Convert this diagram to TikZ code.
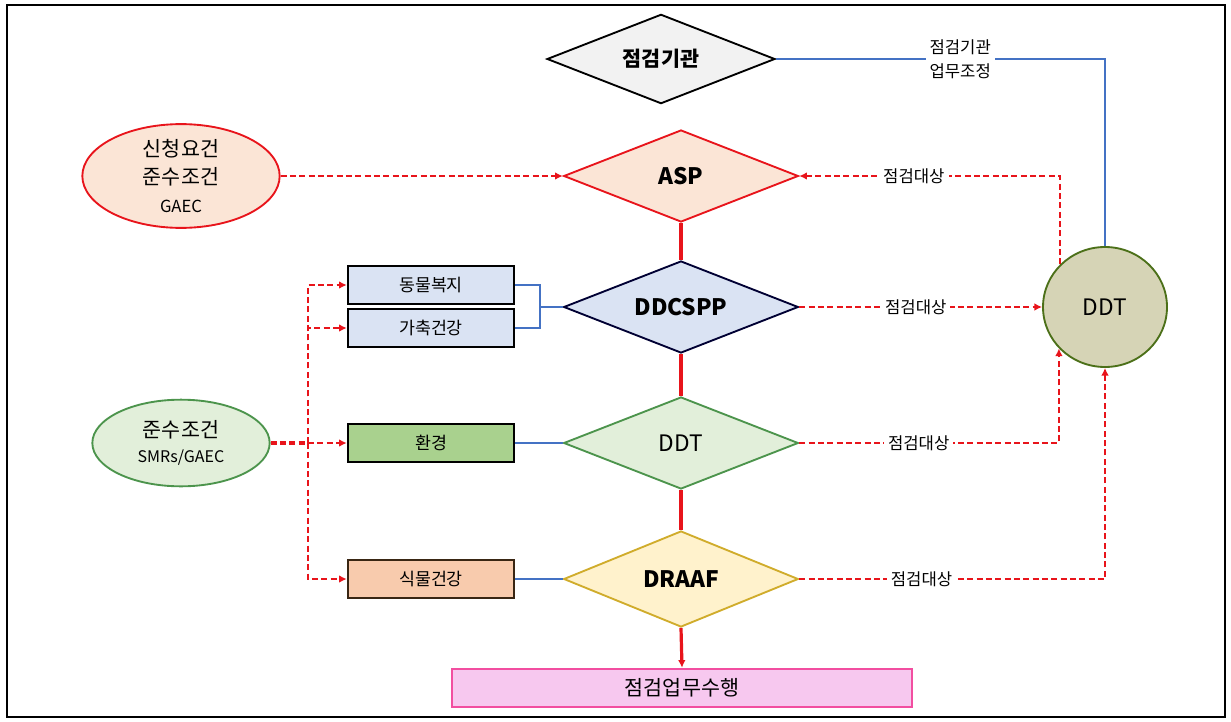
\documentclass[tikz,border=0pt]{standalone}
\usepackage{fontspec}
\setmainfont{Noto Sans CJK KR}
\usetikzlibrary{arrows.meta,shapes.geometric}

\definecolor{lineblue}{HTML}{4472C4}
\definecolor{linered}{HTML}{E8141B}
\definecolor{aspfill}{HTML}{FBE5D6}
\definecolor{bluefill}{HTML}{DAE3F3}
\definecolor{greenfill}{HTML}{E2EFDA}
\definecolor{yellowfill}{HTML}{FFF2CC}
\definecolor{envfill}{HTML}{A9D18E}
\definecolor{plantfill}{HTML}{F8CBAD}
\definecolor{pinkfill}{HTML}{F7C8EF}
\definecolor{ddtfill}{HTML}{D6D4B6}

\tikzset{%
  >={Latex[width=2mm,length=2mm]},
  % Specifications for style of nodes:
          base/.style = {draw=black, line width=1.4pt, inner sep=0pt,
                         align=center},
       decide/.style = {base, diamond, shape aspect=2.5, minimum width=176pt,
                         minimum height=69pt},
       source/.style = {base, ellipse, minimum height=65pt},
      itembox/.style = {base, rectangle, minimum width=125pt,
                         minimum height=28pt, font=\fontsize{13}{15}\selectfont},
  % Specifications for style of lines:
      blueline/.style = {draw=lineblue, line width=1.3pt},
       redline/.style = {draw=linered, line width=2.4pt},
      reddash/.style = {draw=linered, line width=1.5pt,
                         dash pattern=on 4.5pt off 2.5pt},
          lbl/.style = {fill=white, inner sep=3pt, align=center,
                         font=\fontsize{12.5}{18}\selectfont},
}

\begin{document}
\begin{tikzpicture}[x=0.75pt, y=-0.75pt]

  \useasboundingbox (0,0) rectangle (1231,721);
  \draw[line width=1pt] (7,5) rectangle (1225,717);

  % central column
  \node (gigwan) [decide, minimum width=171pt, minimum height=67pt,
                  fill=black!5, font=\fontsize{15.5}{18}\selectfont\bfseries]
                  at (661,59) {점검기관};
  \node (asp)    [decide, draw=linered, fill=aspfill,
                  font=\fontsize{17}{20}\selectfont\bfseries]
                  at (681,176) {ASP};
  \node (ddcspp) [decide, draw=black!80!blue, fill=bluefill,
                  font=\fontsize{17}{20}\selectfont\bfseries]
                  at (681,307) {DDCSPP};
  \node (ddt)    [decide, draw=black!60!green!70, fill=greenfill,
                  font=\fontsize{17}{20}\selectfont]
                  at (681,443) {DDT};
  \node (draaf)  [decide, draw=yellow!60!orange!80!black, fill=yellowfill,
                  minimum height=72pt, font=\fontsize{17}{20}\selectfont\bfseries]
                  at (681,579) {DRAAF};
  \node (work)   [base, draw=magenta!60!pink, fill=pinkfill,
                  minimum width=345pt, minimum height=29pt,
                  font=\fontsize{15.5}{18}\selectfont]
                  at (682,688) {점검업무수행};

  % left side
  \node (apply)  [source, draw=linered, fill=aspfill, minimum width=148pt,
                  font=\fontsize{15.5}{21}\selectfont]
                  at (181,176) {신청요건\\준수조건\\
                                {\fontsize{12.5}{15}\selectfont GAEC}};
  \node (smr)    [source, draw=black!60!green!70, fill=greenfill,
                  minimum width=133pt, font=\fontsize{15.5}{19}\selectfont]
                  at (181,443) {준수조건\\
                                {\fontsize{12}{14}\selectfont SMRs/GAEC}};
  \node (animal) [itembox, fill=bluefill]  at (431,285) {동물복지};
  \node (health) [itembox, fill=bluefill]  at (431,328) {가축건강};
  \node (env)    [itembox, fill=envfill]   at (431,443) {환경};
  \node (plant)  [itembox, draw=black!70!brown, fill=plantfill]
                  at (431,579) {식물건강};

  % right side
  \node (ddtc)   [base, ellipse, draw=black!60!green!60!brown, fill=ddtfill,
                  minimum width=93pt, minimum height=90pt,
                  font=\fontsize{17}{20}\selectfont]
                  at (1105,307) {DDT};

  \coordinate (split) at (308,443);
  \coordinate (join)  at (540,307);

  % solid chain
  \draw[redline]     (asp.south)    -- (ddcspp.north);
  \draw[redline]     (ddcspp.south) -- (ddt.north);
  \draw[redline]     (ddt.south)    -- (draaf.north);
  \draw[redline, ->] (draaf.south)  -- (work.north);

  % blue links
  \draw[blueline] (gigwan.east) -- node[lbl, pos=0.56] {점검기관\\업무조정}
                  (gigwan.east -| ddtc.north) -- (ddtc.north);
  \draw[blueline] (animal.east) -| (join) |- (health.east);
  \draw[blueline] (join) -- (ddcspp.west);
  \draw[blueline] (env.east) -- (ddt.west);
  \draw[blueline] (plant.east) -- (draaf.west);

  % inspection targets
  \draw[reddash, ->] (apply.east) -- (asp.west);
  \draw[reddash, <-] (asp.east) -- node[lbl, pos=0.44] {점검대상}
                     (asp.east -| ddtc.137.5) -- (ddtc.137.5);
  \draw[reddash, ->] (ddcspp.east) -- node[lbl, pos=0.48] {점검대상} (ddtc.west);
  \draw[reddash, ->] (ddt.east) -- node[lbl, pos=0.46] {점검대상}
                     (ddt.east -| ddtc.222.5) -- (ddtc.222.5);
  \draw[reddash, ->] (draaf.east) -- node[lbl, pos=0.40] {점검대상}
                     (draaf.east -| ddtc.south) -- (ddtc.south);

  % compliance branches
  \draw[reddash, line width=2.6pt] (smr.east) -- (split);
  \draw[reddash, ->] (split) -- (env.west);
  \draw[reddash, ->] (split) |- (animal.west);
  \draw[reddash, ->] (split) |- (health.west);
  \draw[reddash, ->] (split) |- (plant.west);

\end{tikzpicture}
\end{document}
